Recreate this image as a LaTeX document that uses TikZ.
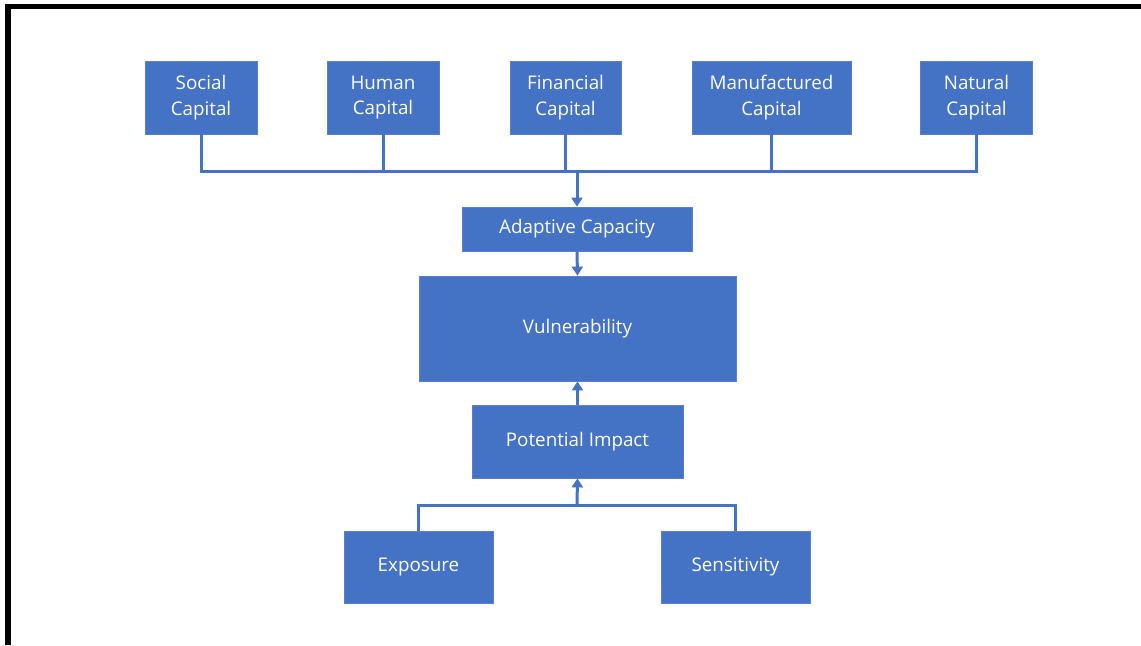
\documentclass[tikz,border=0pt]{standalone}
\usepackage{fontspec}
\setmainfont{Open Sans}
\usetikzlibrary{arrows.meta}
\definecolor{officeblue}{HTML}{4472C4}
\definecolor{edgeblue}{HTML}{5B80C9}

\begin{document}
\begin{tikzpicture}[x=0.5pt,y=-0.5pt,
    box/.style={rectangle,fill=officeblue,draw=edgeblue,line width=0.4pt,text=white,
      align=center,inner sep=0pt,font=\fontsize{9.4}{12.8}\selectfont},
    capbox/.style={box,minimum width=56pt,minimum height=36.5pt},
    link/.style={draw=officeblue,line width=1.5pt},
    tip/.style={-{Triangle[width=5.5pt,length=4.5pt]}}]
      % \draw[help lines](0,0) grid[step=50] (1141,645);
      \useasboundingbox (0,0) rectangle (1141,645);
      \draw[line width=2.8pt] (8,645) -- (8,6.5) -- (1141,6.5);

      \draw (201,97.5) node[capbox] (social) {Social\\Capital};
      \draw (383,97.5) node[capbox] (human) {Human\\Capital};
      \draw (565.5,97.5) node[capbox,minimum width=55.5pt] (financial) {Financial\\Capital};
      \draw (771.5,97.5) node[capbox,minimum width=79.5pt] (manufactured) {Manufactured\\Capital};
      \draw (976.5,97.5) node[capbox] (natural) {Natural\\Capital};

      \draw (577,229) node[box,minimum width=115pt,minimum height=22pt] (adaptive) {Adaptive Capacity};
      \draw (577.5,328.5) node[box,minimum width=158.5pt,minimum height=52.5pt] (vulnerability) {Vulnerability};
      \draw (577.5,441.5) node[box,minimum width=105.5pt,minimum height=36.5pt] (impact) {Potential Impact};
      \draw (418.5,567) node[box,minimum width=74.5pt,minimum height=36pt] (exposure) {Exposure};
      \draw (735.5,567) node[box,minimum width=74.5pt,minimum height=36pt] (sensitivity) {Sensitivity};

      \coordinate (bus) at (577,171);
      \coordinate (join) at (577,505);

      \draw[link] (social.south) |- (bus);
      \draw[link] (human.south) |- (bus);
      \draw[link] (financial.south) |- (bus);
      \draw[link] (manufactured.south) |- (bus);
      \draw[link] (natural.south) |- (bus);
      \draw[link,tip] (bus) -- (adaptive.north);
      \draw[link,tip] (adaptive.south) -- (vulnerability.north);

      \draw[link] (exposure.north) |- (join);
      \draw[link] (sensitivity.north) |- (join);
      \draw[link,tip] (join) -- (impact.south);
      \draw[link,tip] (impact.north) -- (vulnerability.south);
    \end{tikzpicture}
\end{document}
